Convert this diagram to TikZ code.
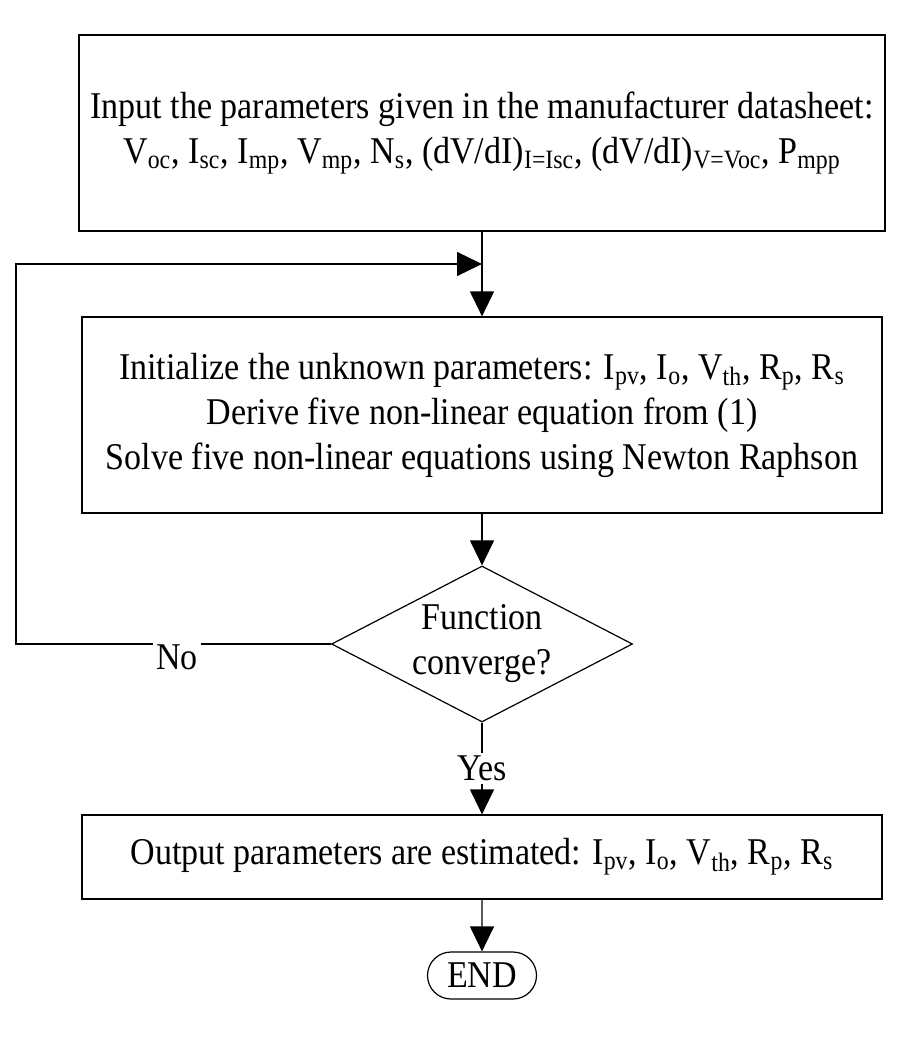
\documentclass[tikz,border=0pt]{standalone}
\usepackage{fontspec}
\setmainfont{Liberation Serif}[FakeStretch=0.9]
\usetikzlibrary{arrows.meta,shapes.geometric,shapes.misc}
\newcommand{\sbs}[1]{\textsubscript{#1}}
\tikzset{stepbox/.style={draw, align=center, inner sep=0pt},
  tag/.style={fill=white, inner sep=1.5pt}}

\begin{document}
\begin{tikzpicture}[x=0.5pt, y=-0.5pt, >={Triangle[length=12.5pt,width=12pt]}, line width=0.6pt,
  font=\fontsize{18.9pt}{22.5pt}\selectfont]
\useasboundingbox (0,0) rectangle (903,1043);

\node[stepbox, minimum width=403pt, minimum height=98pt] (input) at (482,133)
  {Input the parameters given in the manufacturer datasheet:\\
   V\sbs{oc}, I\sbs{sc}, I\sbs{mp}, V\sbs{mp}, N\sbs{s}, (dV/dI)\sbs{I=Isc}, (dV/dI)\sbs{V=Voc}, P\sbs{mpp}};
\node[stepbox, minimum width=400pt, minimum height=98pt] (init) at (482,415)
  {Initialize the unknown parameters: I\sbs{pv}, I\sbs{o}, V\sbs{th}, R\sbs{p}, R\sbs{s}\\
   Derive five non-linear equation from (1)\\
   Solve five non-linear equations using Newton Raphson};
\node[stepbox, diamond, aspect=2, minimum width=150.5pt, minimum height=78pt] (conv) at (482,644)
  {Function\\converge?};
\node[stepbox, minimum width=400pt, minimum height=42pt] (output) at (482,857)
  {Output parameters are estimated: I\sbs{pv}, I\sbs{o}, V\sbs{th}, R\sbs{p}, R\sbs{s}};
\node[stepbox, rounded rectangle, minimum width=54.5pt, minimum height=23.5pt] (finish) at (482,975.5) {END};

\coordinate (merge) at (482,264);
\coordinate (side) at (16,0);

\draw[->] (input) -- (init);
\draw[->] (init) -- (conv);
\draw[->] (conv) -- node[tag] (yes) {Yes} (output);
\draw[->] (output) -- (finish);
\draw[->] (conv.west) -- (conv.west -| side) |- (merge);
\node[tag] (no) at (177,657) {No};
\end{tikzpicture}
\end{document}
